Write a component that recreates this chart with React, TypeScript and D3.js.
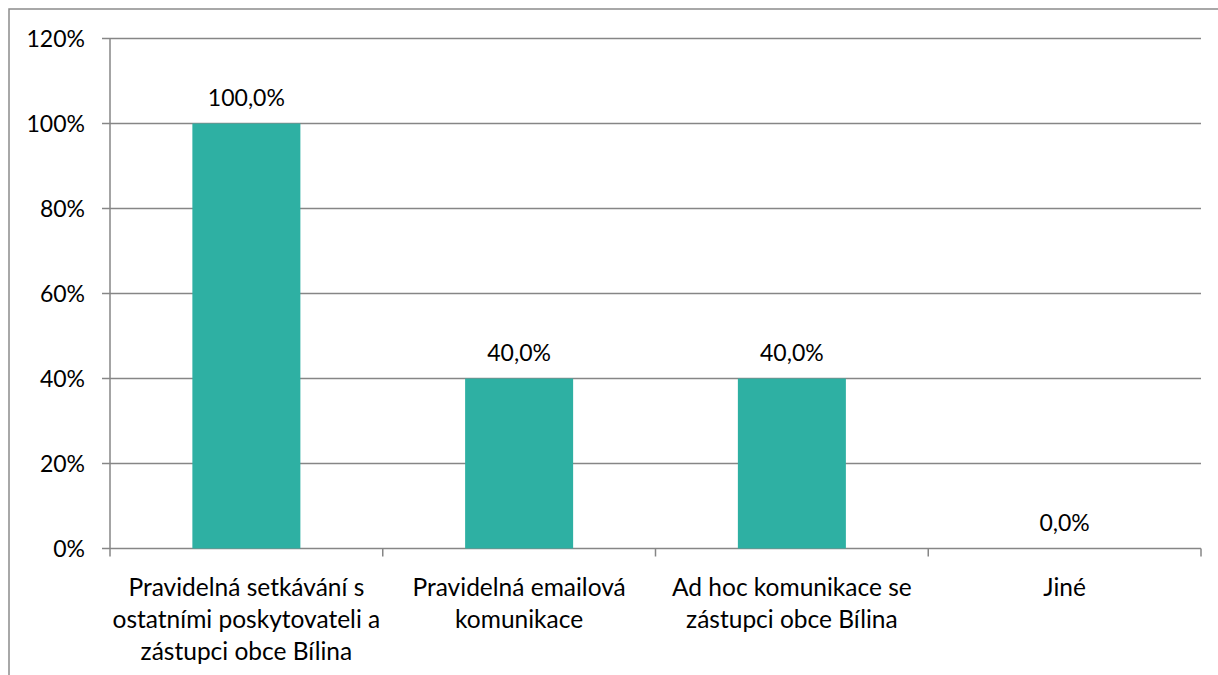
import React from "react";
import * as d3 from "d3";

const categories: string[][] = [
  ["Pravidelná setkávání s", "ostatními poskytovateli a", "zástupci obce Bílina"],
  ["Pravidelná emailová", "komunikace"],
  ["Ad hoc komunikace se", "zástupci obce Bílina"],
  ["Jiné"],
];
const values: number[] = [1.0, 0.4, 0.4, 0.0];
const yTicks: number[] = [0, 0.2, 0.4, 0.6, 0.8, 1.0, 1.2];

const W = 1218;
const H = 675;
const FONT = "Lato, 'Open Sans', sans-serif";
const FS_NUM = 23;
const FS_CAT = 24.5;

export default function App() {
  const left = 110, right = 1201, top = 38.5, bottom = 548.5;
  const idx = categories.map((_, i) => String(i));
  const x = d3.scaleBand<string>().domain(idx).range([left, right]).paddingInner(0.604).paddingOuter(0.302);
  const xOuter = d3.scaleBand<string>().domain(idx).range([left, right]);
  const y = d3.scaleLinear().domain([0, 1.2]).range([bottom, top]);
  const pct = (v: number) => `${Math.round(v * 100)}%`;
  const lab = (v: number) => `${(v * 100).toFixed(1).replace(".", ",")}%`;
  const grid = "#868686";
  return (
    <div style={{ position: "absolute", left: 0, top: 0 }}>
      <svg width={W} height={H} style={{ display: "block" }} fontFamily={FONT}>
        <rect x={0} y={0} width={W} height={H} fill="#fff" />
        <rect x={9} y={9} width={W + 20} height={H + 20} fill="#fff" stroke="#8c8c8c" strokeWidth={1.5} />
        {yTicks.map((t) => (
          <g key={t}>
            <line x1={left - 8} x2={right} y1={y(t)} y2={y(t)} stroke={grid} strokeWidth={1.5} />
            <text x={85} y={y(t)} dy="0.35em" textAnchor="end" fontSize={FS_NUM} fill="#000">{pct(t)}</text>
          </g>
        ))}
        <line x1={left} x2={left} y1={top} y2={bottom} stroke={grid} strokeWidth={1.5} />
        {idx.map((k) => (
          <line key={"t" + k} x1={xOuter(k)!} x2={xOuter(k)!} y1={bottom} y2={bottom + 8} stroke={grid} strokeWidth={1.5} />
        ))}
        <line x1={right} x2={right} y1={bottom} y2={bottom + 8} stroke={grid} strokeWidth={1.5} />
        {values.map((v, i) => (
          <rect key={"b" + i} x={x(String(i))!} y={y(v)} width={x.bandwidth()} height={bottom - y(v)} fill="#2EB0A3" />
        ))}
        {values.map((v, i) => (
          <text key={"l" + i} x={x(String(i))! + x.bandwidth() / 2} y={y(v) - 26} dy="0.35em" textAnchor="middle" fontSize={FS_NUM} fill="#000">{lab(v)}</text>
        ))}
        {categories.map((lines, i) => (
          <text key={"c" + i} textAnchor="middle" fontSize={FS_CAT} fill="#000">
            {lines.map((ln, j) => (
              <tspan key={j} x={xOuter(String(i))! + xOuter.bandwidth() / 2} y={587 + j * 32} dy="0.35em">{ln}</tspan>
            ))}
          </text>
        ))}
      </svg>
    </div>
  );
}
